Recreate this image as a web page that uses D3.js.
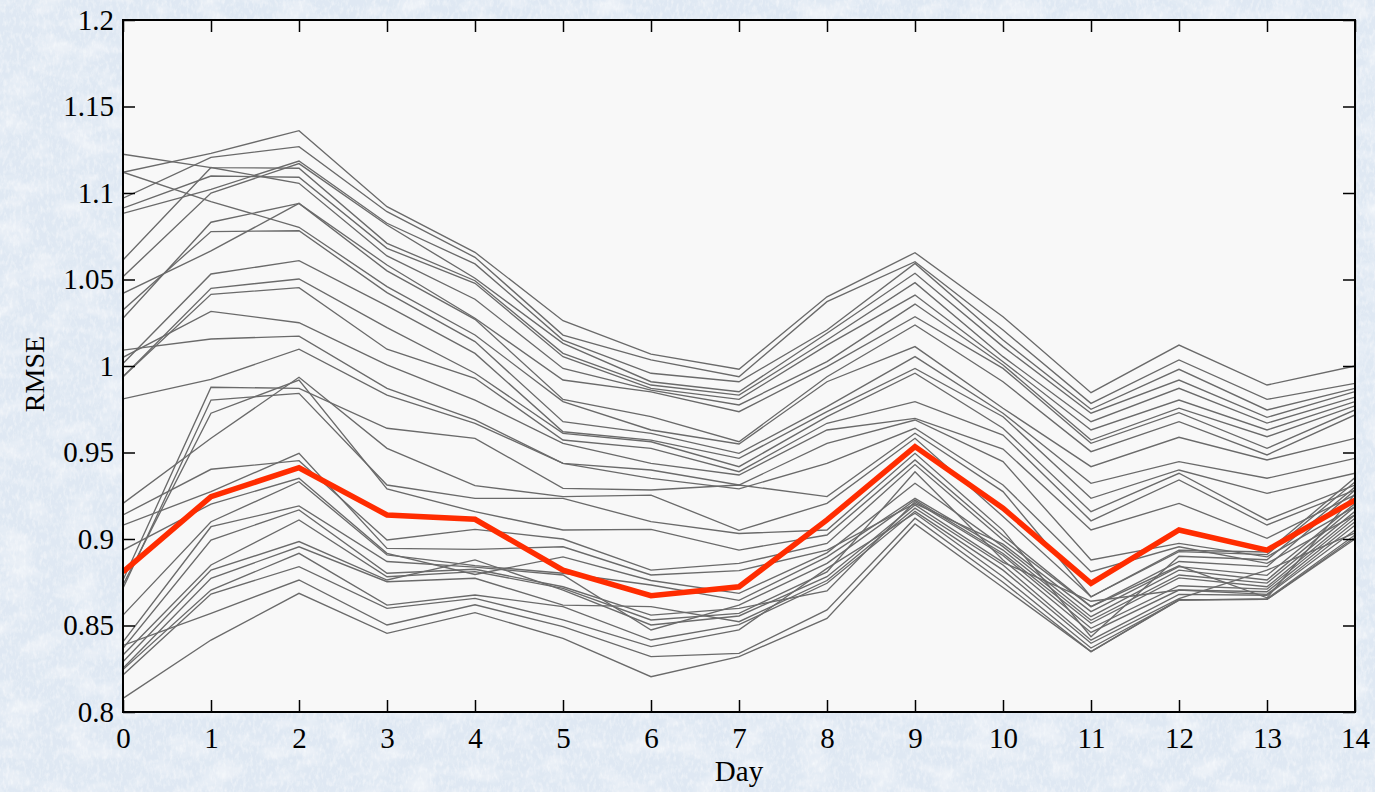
<!DOCTYPE html>
<html><head><meta charset="utf-8">
<script src="https://cdn.jsdelivr.net/npm/d3@7"></script>
<style>html,body{margin:0;padding:0;overflow:hidden;background:#e1e9f4}svg{display:block}</style>
</head><body><svg id="c" width="1375" height="792"></svg>
<script>
// ---------- data ----------
const days = [0,1,2,3,4,5,6,7,8,9,10,11,12,13,14];
const xTickLabels = ["0","1","2","3","4","5","6","7","8","9","10","11","12","13","14"];
const yTickValues = [0.8,0.85,0.9,0.95,1.0,1.05,1.1,1.15,1.2];
const yTickLabels = ["0.8","0.85","0.9","0.95","1","1.05","1.1","1.15","1.2"];
const xLabel = "Day";
const yLabel = "RMSE";

// highlighted series
const redSeries = [0.881,0.9245,0.9412,0.9139,0.9114,0.882,0.8672,0.8724,0.911,0.9534,0.9178,0.8744,0.9052,0.8936,0.9225];

// upper bundle
const upperRuns = [
 [1.112,1.1229,1.136,1.0921,1.0657,1.0262,1.0069,0.9981,1.040,1.0655,1.0285,0.9846,1.0121,0.989,1.000],
 [1.097,1.1206,1.1268,1.0892,1.0628,1.0179,1.0035,0.9938,1.0372,1.0603,1.0208,0.9784,1.0035,0.9807,0.990],
 [1.0882,1.1021,1.1185,1.0825,1.059,1.015,0.9958,0.9909,1.0208,1.0593,1.015,0.975,0.9981,0.9746,0.9871],
 [1.0516,1.100,1.117,1.0815,1.0507,1.0131,0.9909,0.9851,1.0189,1.0536,1.0112,0.9727,0.9919,0.9703,0.9852],
 [1.1224,1.1147,1.1143,1.0709,1.0493,1.0073,0.989,0.9832,1.015,1.0482,1.0054,0.9678,0.9871,0.967,0.982],
 [1.0912,1.1098,1.1091,1.068,1.0478,1.0054,0.9871,0.9807,1.0121,1.041,1.0025,0.963,0.9803,0.963,0.9794],
 [1.0613,1.1147,1.1056,1.0636,1.0386,0.9986,0.9861,0.9775,1.0025,1.0358,1.0006,0.9572,0.9756,0.9591,0.977],
 [1.0276,1.0831,1.094,1.0584,1.0276,0.9919,0.985,0.9736,0.9996,1.0285,0.9986,0.9553,0.973,0.9524,0.9746],
 [1.042,1.0665,1.094,1.055,1.027,0.9807,0.9707,0.9562,0.9938,1.0237,0.9909,0.9505,0.9678,0.9486,0.9717]
];

// middle bundle
const middleRuns = [
 [1.112,1.095,1.0802,1.0459,1.0179,0.9794,0.963,0.9549,0.9909,1.0112,0.9756,0.9418,0.9588,0.9457,0.9582],
 [1.0324,1.0777,1.0782,1.0424,1.0141,0.9678,0.9611,0.9495,0.9765,1.0054,0.9727,0.9322,0.9447,0.9351,0.9466],
 [1.0015,1.0532,1.0609,1.0347,1.0073,0.962,0.9572,0.9466,0.9736,0.9986,0.9707,0.9235,0.9399,0.9264,0.938],
 [0.9938,1.0449,1.0503,1.0222,0.9958,0.9611,0.9562,0.9418,0.9707,0.9958,0.964,0.9158,0.938,0.911,0.9312],
 [0.9938,1.0414,1.0453,1.0097,0.9929,0.9572,0.9524,0.9389,0.9669,0.9794,0.9601,0.9105,0.9341,0.9081,0.9283],
 [1.005,1.0316,1.025,1.0006,0.9803,0.9553,0.9437,0.937,0.963,0.9697,0.952,0.9052,0.9206,0.9004,0.9255],
 [1.0092,1.0156,1.0173,0.9871,0.9688,0.9437,0.9399,0.9312,0.9553,0.9688,0.9447,0.8879,0.8975,0.8897,0.9187],
 [0.981,0.9923,1.0097,0.9832,0.9669,0.9437,0.935,0.929,0.9437,0.964,0.9312,0.8811,0.8955,0.8859,0.9139]
];

// lower bundle
const lowerRuns = [
 [0.9206,0.9582,0.9935,0.9524,0.9308,0.9245,0.9254,0.905,0.9206,0.9582,0.913,0.8666,0.8927,0.891,0.933],
 [0.8763,0.9877,0.9871,0.964,0.9582,0.9293,0.9283,0.9312,0.9245,0.9611,0.9274,0.8666,0.8935,0.8925,0.9355],
 [0.8715,0.9803,0.9842,0.9312,0.9235,0.9235,0.91,0.9032,0.9052,0.9495,0.905,0.8435,0.890,0.888,0.93],
 [0.8735,0.9727,0.9919,0.929,0.9158,0.9052,0.9056,0.8936,0.9023,0.9457,0.902,0.8609,0.887,0.884,0.9283],
 [0.9139,0.9403,0.9453,0.8994,0.9056,0.9,0.882,0.8859,0.8974,0.943,0.8994,0.8609,0.8845,0.866,0.926],
 [0.908,0.9274,0.9495,0.8946,0.894,0.8955,0.8792,0.8817,0.8936,0.9205,0.897,0.858,0.884,0.879,0.9205],
 [0.8936,0.9202,0.9351,0.8917,0.8795,0.8897,0.876,0.8686,0.892,0.9322,0.8956,0.8551,0.882,0.8763,0.9187],
 [0.856,0.91,0.9331,0.8908,0.8846,0.8802,0.8734,0.8645,0.8897,0.9235,0.8936,0.853,0.8792,0.8745,0.916],
 [0.8406,0.9071,0.9191,0.887,0.8837,0.8792,0.8474,0.8618,0.8859,0.9225,0.8916,0.8513,0.8775,0.8724,0.9139],
 [0.8368,0.8994,0.9168,0.8802,0.8825,0.8724,0.856,0.8599,0.87,0.9216,0.8905,0.8484,0.873,0.871,0.912],
 [0.833,0.885,0.911,0.8782,0.8811,0.8715,0.8532,0.857,0.881,0.9389,0.8879,0.846,0.8705,0.8695,0.91],
 [0.829,0.882,0.8985,0.8763,0.8879,0.8705,0.8503,0.8555,0.8782,0.9197,0.8865,0.864,0.8705,0.868,0.908],
 [0.8253,0.8773,0.8955,0.8753,0.8773,0.8618,0.8609,0.8522,0.876,0.9178,0.885,0.8415,0.868,0.8675,0.9052],
 [0.8245,0.8705,0.8917,0.8618,0.8676,0.8609,0.8416,0.8505,0.8744,0.916,0.882,0.8397,0.8655,0.882,0.9035],
 [0.8214,0.8682,0.884,0.8599,0.8657,0.8532,0.8378,0.8475,0.883,0.9149,0.8782,0.837,0.8647,0.8655,0.9023],
 [0.8385,0.857,0.8763,0.8503,0.862,0.8493,0.832,0.8339,0.859,0.912,0.875,0.8349,0.8647,0.8651,0.901],
 [0.8079,0.8416,0.8686,0.8455,0.8574,0.8426,0.8204,0.832,0.8541,0.9087,0.872,0.8349,0.865,0.8651,0.90]
];

// ---------- drawing ----------
const W = 1375, H = 792;
const m = {left:123, top:20, right:1355, bottom:712};
const svg = d3.select("#c");
const defs = svg.append("defs");

// paper-like background
const f = defs.append("filter").attr("id","paper").attr("x",0).attr("y",0).attr("width","100%").attr("height","100%");
f.append("feTurbulence").attr("type","fractalNoise").attr("baseFrequency","0.03 0.05").attr("numOctaves",4).attr("seed",11).attr("result","n1");
f.append("feColorMatrix").attr("in","n1").attr("type","matrix")
 .attr("values","0 0 0 0 1  0 0 0 0 1  0 0 0 0 1  0 0 0 1.1 -0.5").attr("result","w1");
f.append("feTurbulence").attr("type","fractalNoise").attr("baseFrequency","0.3 0.15").attr("numOctaves",3).attr("seed",5).attr("result","n2");
f.append("feColorMatrix").attr("in","n2").attr("type","matrix")
 .attr("values","0 0 0 0 1  0 0 0 0 1  0 0 0 0 1  0 0 0 1.0 -0.45").attr("result","w2");
f.append("feMerge").call(g=>{g.append("feMergeNode").attr("in","SourceGraphic");g.append("feMergeNode").attr("in","w1");g.append("feMergeNode").attr("in","w2");});

svg.append("rect").attr("width",W).attr("height",H).attr("fill","#dfe8f3").attr("filter","url(#paper)");

const x = d3.scaleLinear().domain([0,14]).range([m.left, m.right]);
const y = d3.scaleLinear().domain([0.8,1.2]).range([m.bottom, m.top]);

svg.append("rect").attr("x",m.left).attr("y",m.top).attr("width",m.right-m.left).attr("height",m.bottom-m.top).attr("fill","#f8f8f8");

defs.append("clipPath").attr("id","clip").append("rect")
 .attr("x",m.left).attr("y",m.top).attr("width",m.right-m.left).attr("height",m.bottom-m.top);

const line = d3.line().x((d,i)=>x(days[i])).y(d=>y(d));
const gLines = svg.append("g").attr("clip-path","url(#clip)");
const grayRuns = upperRuns.concat(middleRuns, lowerRuns);
gLines.selectAll("path.gray").data(grayRuns).join("path").attr("class","gray")
 .attr("d",line).attr("fill","none").attr("stroke","#6a6a6a").attr("stroke-width",1.35).attr("stroke-linejoin","miter");
gLines.append("path").datum(redSeries).attr("d",line).attr("fill","none")
 .attr("stroke","#ff2c00").attr("stroke-width",5.5).attr("stroke-linejoin","miter");

// axes
const font = "'Liberation Serif','Times New Roman',serif";
const tk = 12;
function styleAxis(g){
  g.select(".domain").remove();
  g.selectAll(".tick line").attr("stroke","#000").attr("stroke-width",1.5);
  g.selectAll(".tick text").attr("font-family",font).attr("font-size",29).attr("fill","#000");
}
svg.append("g").attr("transform",`translate(${m.left},0)`)
 .call(d3.axisLeft(y).tickValues(yTickValues).tickFormat((d,i)=>yTickLabels[i]).tickSizeInner(-tk).tickSizeOuter(0).tickPadding(9))
 .call(styleAxis);
svg.append("g").attr("transform",`translate(${m.right},0)`)
 .call(d3.axisRight(y).tickValues(yTickValues).tickFormat("").tickSizeInner(-tk).tickSizeOuter(0))
 .call(styleAxis);
svg.append("g").attr("transform",`translate(0,${m.bottom})`)
 .call(d3.axisBottom(x).tickValues(days).tickFormat((d,i)=>xTickLabels[i]).tickSizeInner(-tk).tickSizeOuter(0).tickPadding(15))
 .call(styleAxis);
svg.append("g").attr("transform",`translate(0,${m.top})`)
 .call(d3.axisTop(x).tickValues(days).tickFormat("").tickSizeInner(-tk).tickSizeOuter(0))
 .call(styleAxis);

svg.append("rect").attr("x",m.left).attr("y",m.top).attr("width",m.right-m.left).attr("height",m.bottom-m.top)
 .attr("fill","none").attr("stroke","#000").attr("stroke-width",2);

svg.append("text").attr("x",(m.left+m.right)/2).attr("y",781).attr("text-anchor","middle")
 .attr("font-family",font).attr("font-size",29).text(xLabel);
svg.append("text").attr("transform",`translate(44,374) rotate(-90)`).attr("text-anchor","middle")
 .attr("font-family",font).attr("font-size",28).text(yLabel);
</script></body></html>
